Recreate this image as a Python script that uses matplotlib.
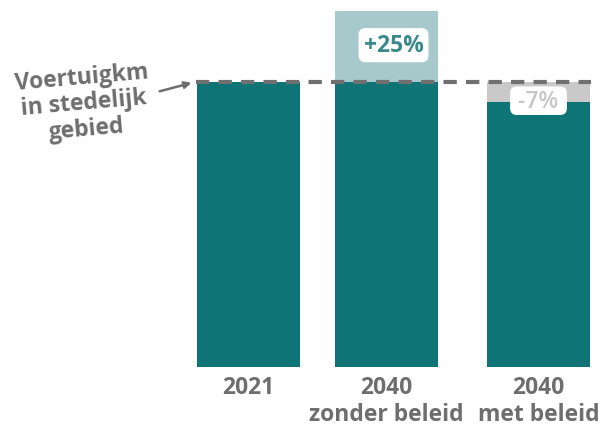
import matplotlib.pyplot as plt

plt.rcParams['font.family'] = ['Open Sans', 'DejaVu Sans']

# Gegevens
categorieen = ["2021", "2040\nzonder beleid", "2040\nmet beleid"]
basis = 100
veranderingen = [0, 25, -7]
labels_verandering = ["", "+25%", " -7% "]
posities = [0, 1, 2.1]

teal = "#0f7475"
licht_teal = "#a8c9cb"
grijs_licht = "#c9c9c9"
grijs_tekst = "#6e6e6e"

fig = plt.figure(figsize=(6.03, 4.27), dpi=100)
ax = fig.add_axes([197 / 603, 59 / 427, 393 / 603, 356 / 427])

breedte = 0.746
for x, d in zip(posities, veranderingen):
    if d >= 0:
        ax.bar(x, basis, width=breedte, color=teal)
        if d > 0:
            ax.bar(x, d, bottom=basis, width=breedte, color=licht_teal)
    else:
        ax.bar(x, basis + d, width=breedte, color=teal)
        ax.bar(x, -d, bottom=basis + d, width=breedte, color=grijs_licht)

# Gestippelde referentielijn
ax.plot([posities[0] - breedte / 2 - 0.01, posities[-1] + breedte / 2 + 0.01], [basis, basis],
        color="#707070", lw=3, ls=(0, (3.2, 2.2)), clip_on=False, zorder=5)

# Labels van de verandering
ax.text(posities[1] + 0.05, basis + 13, labels_verandering[1], ha="center", va="center",
        fontsize=16.5, fontweight="bold", color="#3b8a8b",
        bbox=dict(boxstyle="round,pad=0.22,rounding_size=0.3", fc="white", ec="none"), zorder=6)
ax.text(posities[2], basis - 6.5, labels_verandering[2], ha="center", va="center",
        fontsize=16.5, fontweight="semibold", color="#c6c6c6",
        bbox=dict(boxstyle="round,pad=0.1,rounding_size=0.3", fc="white", ec="none"), zorder=6)

ax.set_xlim(posities[0] - breedte / 2, posities[-1] + breedte / 2)
ax.set_ylim(0, 125)
ax.set_xticks(posities)
ax.set_xticklabels(categorieen, fontsize=16.5, fontweight="bold", color=grijs_tekst, linespacing=1.15)
ax.tick_params(axis="x", length=0, pad=6)
ax.set_yticks([])
for s in ax.spines.values():
    s.set_visible(False)

# Annotatie links
fig.text(84 / 603, 1 - 104 / 427, "Voertuigkm\nin stedelijk\ngebied", ha="center", va="center",
         fontsize=16.5, fontweight="bold", color=grijs_tekst, rotation=5, linespacing=1.1)
ax.annotate("", xy=(posities[0] - breedte / 2 - 0.02, basis), xycoords="data",
            xytext=(157 / 603, 1 - 93 / 427), textcoords="figure fraction",
            arrowprops=dict(arrowstyle="-|>", color=grijs_tekst, lw=1.8, mutation_scale=10),
            annotation_clip=False)

plt.savefig("out.png", dpi=100)
